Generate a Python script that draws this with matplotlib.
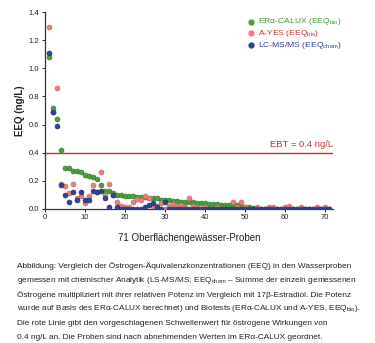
import numpy as np
import matplotlib
matplotlib.use("Agg")
import matplotlib.pyplot as plt

plt.rcParams['font.family'] = ['Liberation Sans', 'DejaVu Sans']
plt.rcParams['mathtext.fontset'] = 'custom'
plt.rcParams['mathtext.rm'] = 'Liberation Sans'
plt.rcParams['mathtext.it'] = 'Liberation Sans'

# samples ordered by decreasing ERa-CALUX value
samples = np.arange(1, 72)

calux = [1.08, 0.72, 0.64, 0.42, 0.29, 0.29, 0.27, 0.27, 0.26, 0.24,
         0.235, 0.23, 0.21, 0.17, 0.13, 0.13, 0.11, 0.10, 0.10, 0.095,
         0.09, 0.09, 0.088, 0.086, 0.085, 0.08, 0.078, 0.075, 0.065, 0.06,
         0.06, 0.058, 0.055, 0.052, 0.052, 0.05, 0.05, 0.045, 0.042, 0.04,
         0.038, 0.035, 0.033, 0.03, 0.03, 0.028, 0.025, 0.025, 0.02, 0.015,
         0.01, 0.005, 0.0, 0.0, 0.0, 0.0, 0.0, 0.0, 0.0, 0.0,
         0.0, 0.0, 0.0, 0.0, 0.0, 0.0, 0.0, 0.0, 0.0, 0.0, 0.0]

ayes = [1.29, 0.69, 0.86, 0.18, 0.16, 0.11, 0.18, 0.08, 0.09, 0.04,
        0.09, 0.17, 0.12, 0.26, 0.10, 0.18, 0.10, 0.05, 0.02, 0.01,
        0.01, 0.05, 0.07, 0.06, 0.09, 0.075, 0.02, 0.02, 0.04, 0.0,
        0.02, 0.035, 0.02, 0.03, 0.01, 0.08, 0.02, 0.01, 0.0, 0.01,
        0.0, 0.0, 0.01, 0.0, 0.0, 0.0, 0.05, 0.01, 0.05, 0.01,
        0.0, 0.0, 0.015, 0.0, 0.0, 0.015, 0.015, 0.0, 0.0, 0.015,
        0.02, 0.0, 0.0, 0.015, 0.0, 0.0, 0.0, 0.015, 0.0, 0.015, 0.0]

lcms = [1.11, 0.69, 0.59, 0.17, 0.10, 0.05, 0.12, 0.06, 0.12, 0.06,
        0.06, 0.13, 0.12, 0.13, 0.08, 0.01, 0.10, 0.01, 0.0, 0.0,
        0.0, 0.0, 0.0, 0.0, 0.01, 0.03, 0.04, 0.01, 0.0, 0.05,
        0.0, 0.0, 0.0, 0.0, 0.0, 0.0, 0.0, 0.0, 0.0, 0.0,
        0.0, 0.0, 0.0, 0.0, 0.0, 0.0, 0.0, 0.0, 0.0, 0.0,
        0.0, 0.0, 0.0, 0.0, 0.0, 0.0, 0.0, 0.0, 0.0, 0.0,
        0.0, 0.0, 0.0, 0.0, 0.0, 0.0, 0.0, 0.0, 0.0, 0.0, 0.0]

ebt = 0.4

caption = [
    "Abbildung: Vergleich der Östrogen-Äquivalenzkonzentrationen (EEQ) in den Wasserproben",
    r"gemessen mit chemischer Analytik (LS-MS/MS; EEQ$_{\mathrm{chem}}$ – Summe der einzeln gemessenen",
    "Östrogene multipliziert mit ihrer relativen Potenz im Vergleich mit 17β-Estradiol. Die Potenz",
    r"wurde auf Basis des ERα-CALUX berechnet) und Biotests (ERα-CALUX und A-YES, EEQ$_{\mathrm{bio}}$).",
    "Die rote Linie gibt den vorgeschlagenen Schwellenwert für östrogene Wirkungen von",
    "0.4 ng/L an. Die Proben sind nach abnehmenden Werten im ERα-CALUX geordnet.",
]

green, pink, blue = '#4a9e3c', '#e8807e', '#2e4596'
red = '#c0352b'

fig = plt.figure(figsize=(3.75, 3.43), dpi=100)
ax = fig.add_axes([0.12, 0.391, 0.768, 0.574])

ms = 13
ax.scatter(samples, calux, s=ms, color=green, edgecolor='#2f7a2a', linewidth=0.4, zorder=3)
ax.scatter(samples, ayes, s=ms, color=pink, edgecolor='#c86060', linewidth=0.4, zorder=4)
ax.scatter(samples, lcms, s=ms, color=blue, edgecolor='#1e2f70', linewidth=0.4, zorder=5)

ax.axhline(ebt, color=red, lw=1.0, zorder=2)
ax.text(72, ebt + 0.025, "EBT = 0.4 ng/L", color=red, fontsize=6.8, ha='right', va='bottom')

ax.set_xlim(0, 72)
ax.set_ylim(0, 1.4)
ax.set_xticks(range(0, 71, 10))
ax.set_yticks(np.arange(0, 1.41, 0.2))
ax.set_yticklabels([f"{v:.1f}" for v in np.arange(0, 1.41, 0.2)])
ax.tick_params(labelsize=5.5, length=2.5, width=0.7, pad=1.5, colors='#222222')
for s in ['top', 'right']:
    ax.spines[s].set_visible(False)
for s in ['left', 'bottom']:
    ax.spines[s].set_color('#333333')
    ax.spines[s].set_linewidth(0.9)

ax.set_ylabel("EEQ (ng/L)", fontsize=7, fontweight='bold', color='#222222', labelpad=3)
fig.text(0.504, 0.306, "71 Oberflächengewässer-Proben", fontsize=7, ha='center', va='center', color='#222222')

# legend
leg_x, leg_y = 0.668, [0.937, 0.903, 0.868]
labels = [r"ERα-CALUX (EEQ$_{\mathrm{bio}}$)", r"A-YES (EEQ$_{\mathrm{bio}}$)", r"LC-MS/MS (EEQ$_{\mathrm{chem}}$)"]
text_cols = ['#3e9a3a', '#c8332c', '#2e3f8e']
for lab, col, tcol, yy in zip(labels, [green, pink, blue], text_cols, leg_y):
    fig.lines.append(plt.Line2D([leg_x], [yy], marker='o', ms=3.5, color=col, transform=fig.transFigure))
    fig.text(leg_x + 0.02, yy, lab, fontsize=6.1, color=tcol, va='center')

for i, line in enumerate(caption):
    fig.text(0.045, 1 - (266 + i * 14.3) / 343, line, fontsize=5.95, color='#222222', va='center')

fig.savefig("out.png", dpi=100)
